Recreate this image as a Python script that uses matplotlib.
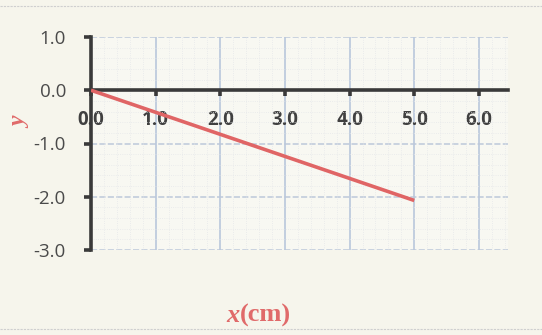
import matplotlib
matplotlib.use("Agg")
import matplotlib.pyplot as plt
from matplotlib.ticker import MultipleLocator
from matplotlib.lines import Line2D

# Data
x_values = [0.0, 5.0]
y_values = [0.0, -2.07]
x_ticks = [0.0, 1.0, 2.0, 3.0, 4.0, 5.0, 6.0]
x_tick_labels = ["0.0", "1.0", "2.0", "3.0", "4.0", "5.0", "6.0"]
y_ticks = [1.0, 0.0, -1.0, -2.0, -3.0]
y_tick_labels = ["1.0", "0.0", "-1.0", "-2.0", "-3.0"]

bg = "#f6f5ec"
W, H = 542, 335
fig = plt.figure(figsize=(5.42, 3.35), dpi=100, facecolor=bg)
ax = fig.add_axes([91/W, 1-250/H, (508-91)/W, (250-37)/H])
ax.set_facecolor("#f8f8f2")

ax.set_xlim(0, 6.45)
ax.set_ylim(-3, 1)

# grids
ax.xaxis.set_minor_locator(MultipleLocator(0.2))
ax.yaxis.set_minor_locator(MultipleLocator(0.2))
ax.grid(which="minor", color="#e6e8ea", linewidth=0.6, linestyle=":")
ax.set_xticks(x_ticks)
ax.set_yticks(y_ticks)
for xv in x_ticks:
    ax.axvline(xv, color="#b9c7dc", linewidth=1.2, zorder=1)
for yv in y_ticks:
    ax.axhline(yv, color="#bcc8da", linewidth=1.1, linestyle=(0, (4, 1.5)), zorder=1)

# spines
for s in ["top", "right"]:
    ax.spines[s].set_visible(False)
ax.spines["left"].set_color("#3a3a3a")
ax.spines["left"].set_linewidth(2.6)
ax.spines["bottom"].set_position(("data", 0))
ax.spines["bottom"].set_color("#3a3a3a")
ax.spines["bottom"].set_linewidth(2.6)
ax.spines["left"].set_zorder(4)
ax.spines["bottom"].set_zorder(4)

ax.set_xticklabels(x_tick_labels, fontfamily="Open Sans", fontweight="bold",
                   fontsize=13.5, color="#404040")
ax.set_yticklabels(y_tick_labels, fontfamily="Open Sans", fontsize=13.5,
                   color="#4a4a4a")
ax.tick_params(axis="x", which="major", direction="out", length=4, width=2.6,
               color="#3a3a3a", pad=10)
ax.tick_params(axis="y", which="major", direction="out", length=5, width=2.6,
               color="#3a3a3a", pad=13)
ax.tick_params(which="minor", length=0)

ax.plot(x_values, y_values, color="#e06565", linewidth=2.6, zorder=5,
        solid_capstyle="butt")

red = "#e06a6a"
fig.text(21/W, 1-123/H, "y", family="Liberation Serif", style="italic",
         fontweight="bold", fontsize=17, color=red, rotation=90,
         ha="center", va="center")
x0 = 240/W
yl = 1-315/H
fig.text(x0, yl, "x", family="Liberation Serif", style="italic",
         fontweight="bold", fontsize=19, color=red, ha="right", va="center")
fig.text(x0, yl, "(cm)", family="Liberation Serif", fontweight="bold",
         fontsize=19, color=red, ha="left", va="center")

# dotted border lines
fig.add_artist(Line2D([0, 1], [1-6/H, 1-6/H], color="#cfcfcf",
                      linewidth=0.8, linestyle=(0, (2, 1))))
fig.add_artist(Line2D([0, 1], [1-329/H, 1-329/H], color="#cfcfcf",
                      linewidth=0.8, linestyle=(0, (2, 1))))

fig.savefig("out.png", dpi=100, facecolor=bg)
